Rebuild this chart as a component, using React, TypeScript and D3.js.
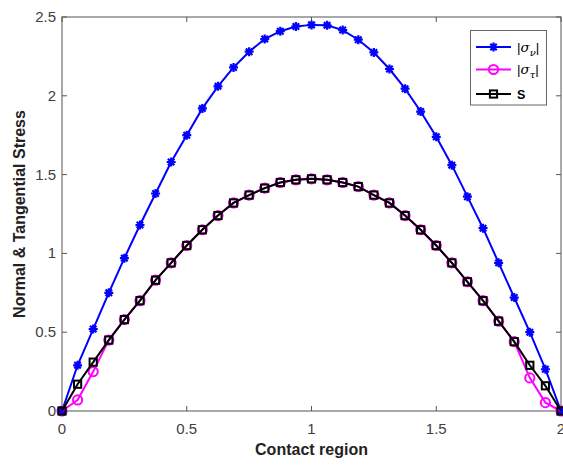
import React, { useEffect, useRef } from 'react';
import * as d3 from 'd3';

// Contact region positions (33 nodes)
const xPos = [
  0, 0.0625, 0.125, 0.1875, 0.25, 0.3125, 0.375, 0.4375, 0.5, 0.5625, 0.625,
  0.6875, 0.75, 0.8125, 0.875, 0.9375, 1, 1.0625, 1.125, 1.1875, 1.25, 1.3125,
  1.375, 1.4375, 1.5, 1.5625, 1.625, 1.6875, 1.75, 1.8125, 1.875, 1.9375, 2,
];

// |sigma_nu|
const sigmaNu = [
  0, 0.29, 0.52, 0.75, 0.97, 1.18, 1.38, 1.58, 1.75, 1.92, 2.06, 2.18, 2.28,
  2.36, 2.41, 2.44, 2.45, 2.447, 2.417, 2.356, 2.275, 2.17, 2.045, 1.9, 1.74,
  1.56, 1.36, 1.16, 0.94, 0.72, 0.5, 0.265, 0,
];

// |sigma_tau|
const sigmaTau = [
  0, 0.07, 0.25, 0.45, 0.58, 0.7, 0.83, 0.94, 1.05, 1.15, 1.24, 1.32, 1.37,
  1.414, 1.45, 1.467, 1.473, 1.467, 1.45, 1.424, 1.37, 1.32, 1.24, 1.15, 1.05,
  0.94, 0.82, 0.7, 0.57, 0.44, 0.21, 0.053, 0,
];

// S
const sVals = [
  0, 0.17, 0.31, 0.45, 0.58, 0.7, 0.83, 0.94, 1.05, 1.15, 1.24, 1.32, 1.37,
  1.414, 1.45, 1.467, 1.473, 1.467, 1.45, 1.424, 1.37, 1.32, 1.24, 1.15, 1.05,
  0.94, 0.82, 0.7, 0.57, 0.44, 0.29, 0.16, 0,
];

const xTicks = [0, 0.5, 1, 1.5, 2];
const xTickLabels = ['0', '0.5', '1', '1.5', '2'];
const yTicks = [0, 0.5, 1, 1.5, 2, 2.5];
const yTickLabels = ['0', '0.5', '1', '1.5', '2', '2.5'];

const FONT = "'Liberation Sans', Arial, sans-serif";

const App = () => {
  const chartRef = useRef<SVGSVGElement>(null);

  useEffect(() => {
    const width = 563;
    const height = 465;
    const left = 62, right = 561, top = 17, bottom = 411;

    const svg = d3.select(chartRef.current);
    svg.selectAll('*').remove();

    const x = d3.scaleLinear().domain([0, 2]).range([left, right]);
    const y = d3.scaleLinear().domain([0, 2.5]).range([bottom, top]);

    svg.append('rect')
      .attr('width', width).attr('height', height).attr('fill', '#fff');

    const axisColor = '#555';

    // box
    svg.append('rect')
      .attr('x', left).attr('y', top)
      .attr('width', right - left).attr('height', bottom - top)
      .attr('fill', 'none').attr('stroke', axisColor).attr('stroke-width', 1);

    const tickLen = 5;
    xTicks.forEach((t, i) => {
      const px = x(t);
      svg.append('line').attr('x1', px).attr('x2', px)
        .attr('y1', bottom).attr('y2', bottom - tickLen)
        .attr('stroke', axisColor);
      svg.append('line').attr('x1', px).attr('x2', px)
        .attr('y1', top).attr('y2', top + tickLen)
        .attr('stroke', axisColor);
      svg.append('text')
        .attr('x', px).attr('y', 434)
        .attr('text-anchor', 'middle')
        .attr('font-family', FONT).attr('font-size', 15)
        .attr('fill', '#404040')
        .text(xTickLabels[i]);
    });

    yTicks.forEach((t, i) => {
      const py = y(t);
      svg.append('line').attr('x1', left).attr('x2', left + tickLen)
        .attr('y1', py).attr('y2', py).attr('stroke', axisColor);
      svg.append('line').attr('x1', right).attr('x2', right - tickLen)
        .attr('y1', py).attr('y2', py).attr('stroke', axisColor);
      svg.append('text')
        .attr('x', 56).attr('y', py + 5)
        .attr('text-anchor', 'end')
        .attr('font-family', FONT).attr('font-size', 15)
        .attr('fill', '#404040')
        .text(yTickLabels[i]);
    });

    // axis labels
    svg.append('text')
      .attr('x', (left + right) / 2).attr('y', 455)
      .attr('text-anchor', 'middle')
      .attr('font-family', FONT).attr('font-size', 16).attr('font-weight', 'bold')
      .attr('fill', '#222')
      .text('Contact region');

    svg.append('text')
      .attr('transform', `translate(25,${(top + bottom) / 2}) rotate(-90)`)
      .attr('text-anchor', 'middle')
      .attr('font-family', FONT).attr('font-size', 16).attr('font-weight', 'bold')
      .attr('fill', '#222')
      .text('Normal & Tangential Stress');

    const line = d3.line<number>()
      .x((_, i) => x(xPos[i]))
      .y(d => y(d));

    const drawStar = (g: any, cx: number, cy: number, color: string) => {
      const r = 4.5;
      const d = r * 0.72;
      g.append('path')
        .attr('d', `M${cx - r},${cy}L${cx + r},${cy}M${cx},${cy - r}L${cx},${cy + r}` +
          `M${cx - d},${cy - d}L${cx + d},${cy + d}M${cx - d},${cy + d}L${cx + d},${cy - d}`)
        .attr('stroke', color).attr('stroke-width', 2.2).attr('fill', 'none');
    };
    const drawCircle = (g: any, cx: number, cy: number, color: string) => {
      g.append('circle').attr('cx', cx).attr('cy', cy).attr('r', 4.6)
        .attr('fill', 'none').attr('stroke', color).attr('stroke-width', 2);
    };
    const drawSquare = (g: any, cx: number, cy: number, color: string) => {
      const s = 3.6;
      g.append('rect').attr('x', cx - s).attr('y', cy - s)
        .attr('width', 2 * s).attr('height', 2 * s)
        .attr('fill', 'none').attr('stroke', color).attr('stroke-width', 2);
    };

    const series = [
      { data: sigmaNu, color: '#0000ff', marker: drawStar },
      { data: sigmaTau, color: '#ff00ff', marker: drawCircle },
      { data: sVals, color: '#000000', marker: drawSquare },
    ];

    series.forEach(s => {
      const g = svg.append('g');
      g.append('path')
        .datum(s.data)
        .attr('d', line)
        .attr('fill', 'none')
        .attr('stroke', s.color)
        .attr('stroke-width', 2);
      s.data.forEach((v, i) => s.marker(g, x(xPos[i]), y(v), s.color));
    });

    // legend
    const lg = svg.append('g');
    lg.append('rect')
      .attr('x', 470.5).attr('y', 30.5).attr('width', 76).attr('height', 74.5)
      .attr('fill', '#fff').attr('stroke', '#666').attr('stroke-width', 1);
    const rows = [47, 69.5, 94];
    series.forEach((s, i) => {
      const ry = rows[i];
      lg.append('line').attr('x1', 476).attr('x2', 511)
        .attr('y1', ry).attr('y2', ry)
        .attr('stroke', s.color).attr('stroke-width', 2);
      s.marker(lg, 493.5, ry, s.color);
    });

    const sigmaLabel = (ry: number, sub: string) => {
      const t = lg.append('text')
        .attr('x', 517).attr('y', ry + 4.5)
        .attr('font-family', FONT).attr('font-size', 13.5)
        .attr('fill', '#000');
      t.append('tspan').text('|');
      t.append('tspan').attr('font-style', 'italic').attr('font-family', "'DejaVu Serif', serif").text('σ');
      t.append('tspan').attr('font-style', 'italic').attr('font-family', "'DejaVu Serif', serif")
        .attr('font-size', 10).attr('dy', 4).text(sub);
      t.append('tspan').attr('dy', -4).text('|');
    };
    sigmaLabel(rows[0], 'ν');
    sigmaLabel(rows[1], 'τ');
    lg.append('text')
      .attr('x', 517).attr('y', rows[2] + 4.5)
      .attr('font-family', FONT).attr('font-size', 12.5).attr('font-weight', 'bold')
      .attr('fill', '#000')
      .text('S');
  }, []);

  return (
    <svg
      ref={chartRef}
      width={563}
      height={465}
      style={{ position: 'absolute', left: 0, top: 0 }}
    />
  );
};

export default App;
